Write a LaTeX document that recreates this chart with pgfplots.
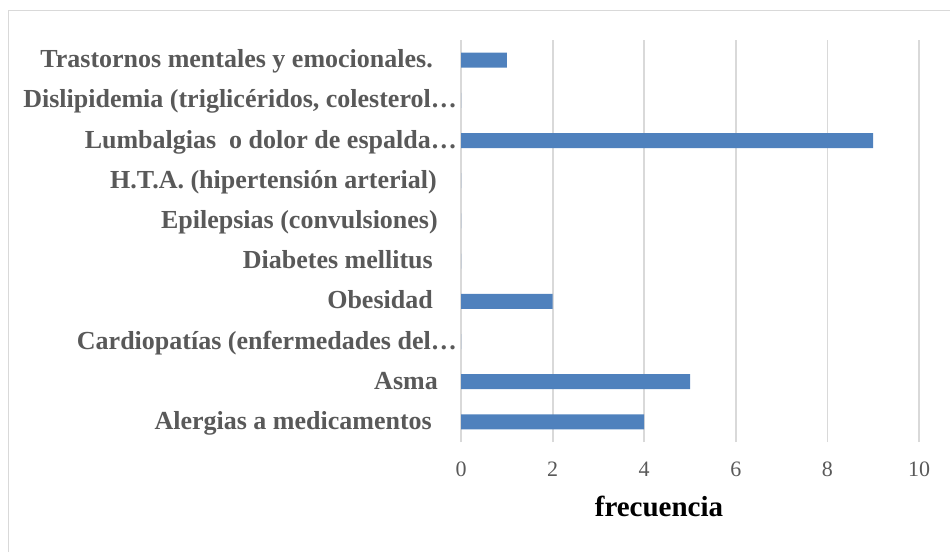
\documentclass[border=0pt]{standalone}
\usepackage{pgfplots}
\pgfplotsset{compat=1.18}
\usepackage{fontspec}
\setmainfont{Liberation Serif}
\definecolor{barblue}{HTML}{4F81BD}
\definecolor{lblgray}{HTML}{595959}
\definecolor{gridgray}{HTML}{D9D9D9}
\begin{document}
\begin{tikzpicture}[x=1pt,y=1pt]
\useasboundingbox (0,0) rectangle (950,552);
\draw[gridgray, line width=1pt] (8.5,0) -- (8.5,541.5) -- (950,541.5);
\begin{axis}[
  at={(461pt,110pt)}, anchor=south west,
  scale only axis, width=458pt, height=402pt,
  xbar, bar width=15pt,
  xmin=0, xmax=10, ymin=-0.5, ymax=9.5,
  xtick={0,2,4,6,8,10},
  ytick={0,1,2,3,4,5,6,7,8,9},
  yticklabels={
    {Alergias a medicamentos\hspace*{25pt}},
    {Asma\hspace*{19pt}},
    {Cardiopatías (enfermedades del…},
    {Obesidad\hspace*{24pt}},
    {Diabetes mellitus\hspace*{24pt}},
    {Epilepsias (convulsiones)\hspace*{19pt}},
    {H.T.A. (hipertensión arterial)\hspace*{20pt}},
    {Lumbalgias\ \ o dolor de espalda…},
    {Dislipidemia (triglicéridos, colesterol…},
    {Trastornos mentales y emocionales.\hspace*{24pt}}},
  axis line style={draw=none},
  major tick length=0pt,
  xmajorgrids, ymajorgrids=false,
  major grid style={gridgray, line width=1.8pt},
  /pgf/number format/assume math mode=true,
  xticklabel style={font=\fontsize{22}{24}\selectfont, text=lblgray, anchor=base, inner sep=0pt, yshift=-34pt},
  yticklabel style={font=\bfseries\fontsize{26}{29}\selectfont, text=lblgray, anchor=base east, inner sep=0pt, xshift=-4pt, yshift=-7.5pt},
]
\addplot[fill=barblue, draw=none] coordinates {
  (4,0) (5,1) (0,2) (2,3) (0,4) (0,5) (0,6) (9,7) (0,8) (1,9)
};
\end{axis}
\node[anchor=base, font=\bfseries\fontsize{29}{32}\selectfont, inner sep=0pt] at (659,36) {frecuencia};
\end{tikzpicture}
\end{document}
